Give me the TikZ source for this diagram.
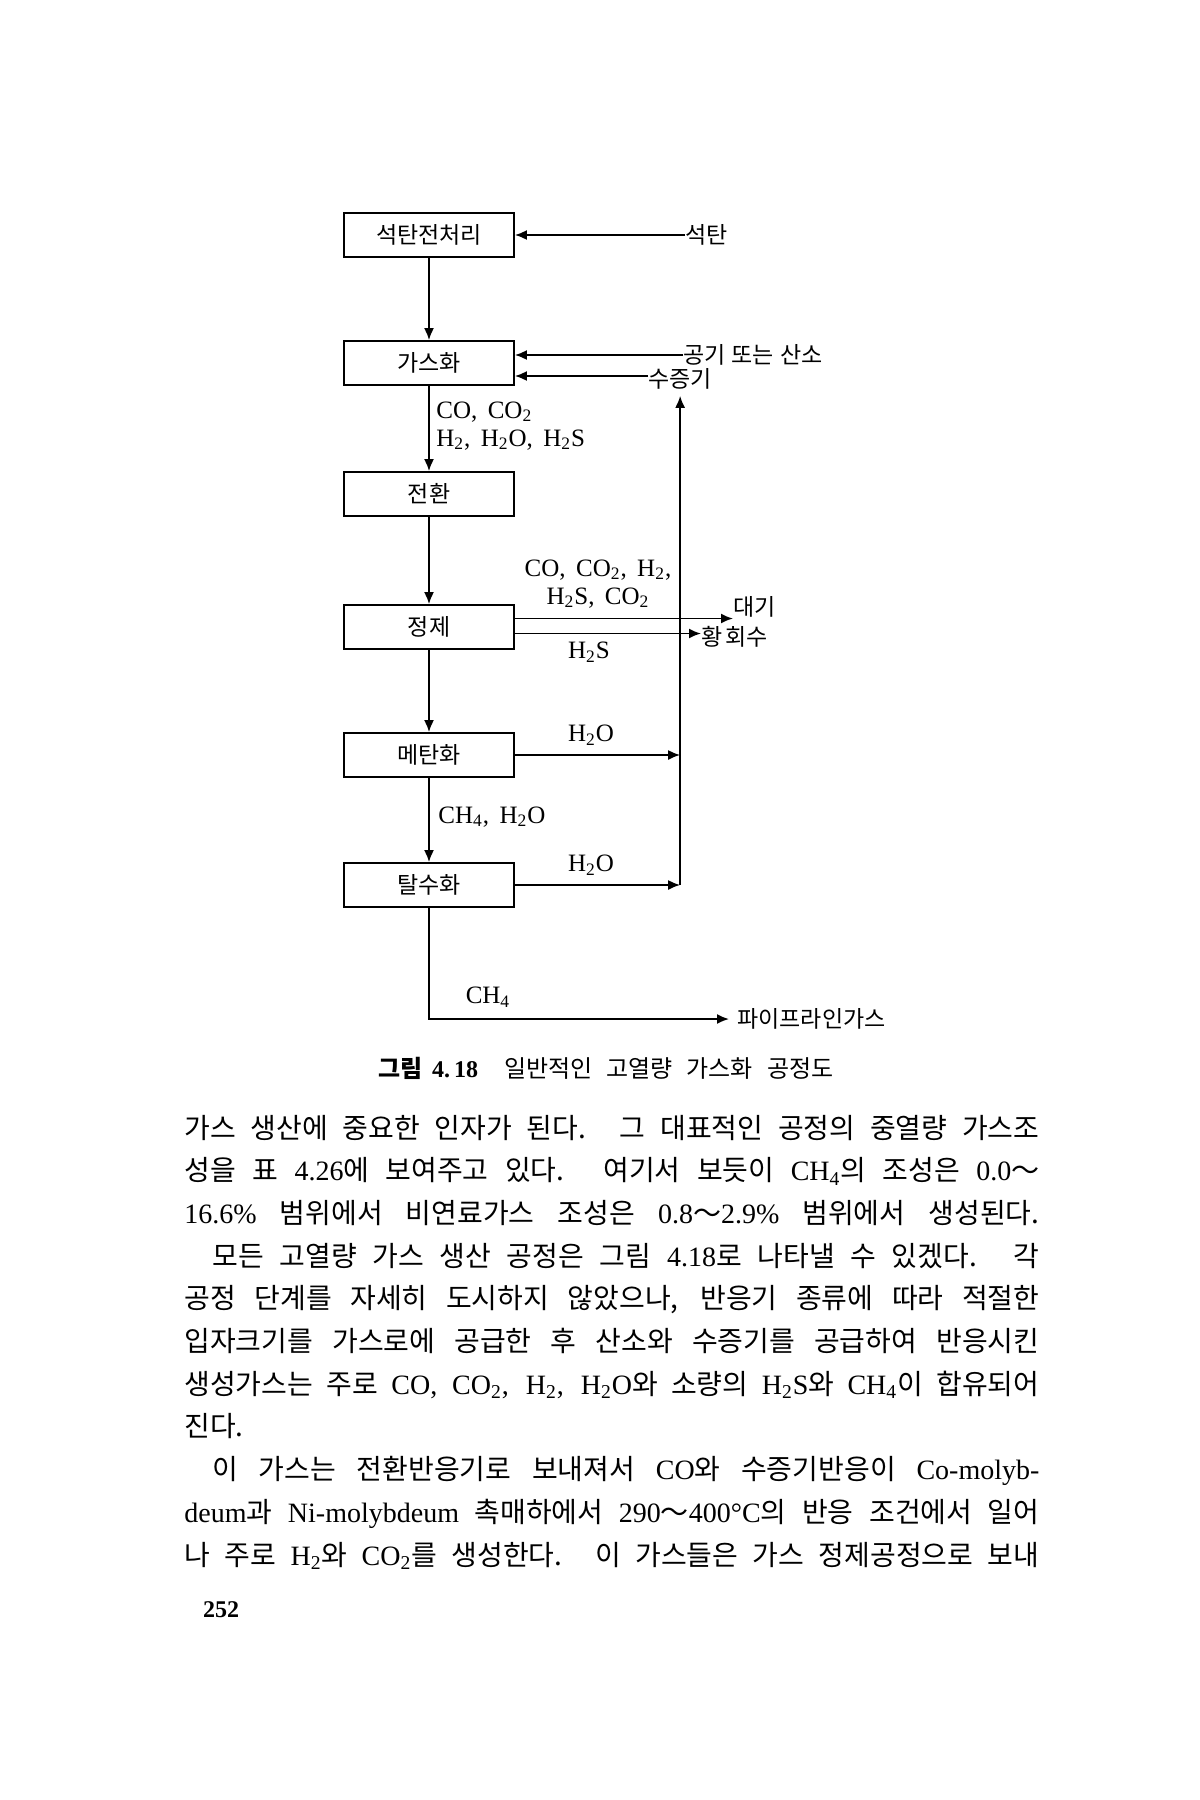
\documentclass[tikz,border=0pt]{standalone}
\usepackage{fontspec}
\newfontfamily\kr{Noto Sans CJK KR}
\newfontfamily\lat{Liberation Serif}
\usetikzlibrary{arrows.meta,positioning}

\tikzset{
  procbox/.style={draw, line width=0.9pt, minimum width=85pt, minimum height=22pt,
    inner sep=0pt, font=\kr\fontsize{11.5}{13}\selectfont},
  flow/.style={line width=0.9pt, -{Latex[length=6pt,width=5pt]}},
  chem/.style={font=\lat\fontsize{12.5}{14}\selectfont, inner sep=0pt},
  side/.style={font=\kr\fontsize{11.5}{13}\selectfont, inner sep=0pt},
  body/.style={font=\kr\fontsize{14}{17}\selectfont, inner sep=0pt, anchor=base west},
}

% one justified line of the page text
\newcommand\bodyline[2][427.5pt]{\makebox[#1][s]{#2}}

\begin{document}
\begin{tikzpicture}[x=0.5pt, y=-0.5pt, every node/.style={font=\kr}]

\useasboundingbox (0,0) rectangle (1200,1800);

\def\xbox{429}
\def\lskip{42.7}

%process boxes
\node[procbox] (prep) at (\xbox,235) {석탄전처리};
\node[procbox] (gasf) at (\xbox,363) {가스화};
\node[procbox] (conv) at (\xbox,494) {전환};
\node[procbox] (puri) at (\xbox,627) {정제};
\node[procbox] (meth) at (\xbox,755) {메탄화};
\node[procbox] (dehy) at (\xbox,885) {탈수화};

%inputs and outputs
\node[side, anchor=west] (coal) at (685,235) {석탄};
\node[side, anchor=west] (air) at (683,355) {공기\hspace{3pt}또는\hspace{3pt}산소};
\node[side, anchor=west] (steam) at (648,379) {수증기};
\node[side, anchor=west] (atm) at (733,607) {대기};
\node[side, anchor=west] (sulf) at (701,637) {황\hspace{1.5pt}회수};
\node[side, anchor=west] (pipe) at (737,1019) {파이프라인가스};

%stream labels
\node[chem, anchor=west, align=left] (gaslbl) at (436,426)
  {CO,\,\ CO\textsubscript{2}\\H\textsubscript{2},\,\ H\textsubscript{2}O,\,\ H\textsubscript{2}S};
\node[chem, align=center] (offlbl) at (598,584)
  {CO,\,\ CO\textsubscript{2},\,\ H\textsubscript{2},\\H\textsubscript{2}S,\,\ CO\textsubscript{2}};
\node[chem] (hslbl) at (589,652) {H\textsubscript{2}S};
\node[chem] (wat1) at (591,735) {H\textsubscript{2}O};
\node[chem, anchor=west] (mixlbl) at (438,817) {CH\textsubscript{4},\,\ H\textsubscript{2}O};
\node[chem] (wat2) at (591,865) {H\textsubscript{2}O};
\node[chem] (ch4lbl) at (488,997) {CH\textsubscript{4}};

%main line
\draw[flow] (prep) -- (gasf);
\draw[flow] (gasf) -- (conv);
\draw[flow] (conv) -- (puri);
\draw[flow] (puri) -- (meth);
\draw[flow] (meth) -- (dehy);
\draw[flow, shorten >=4pt] (dehy.south) |- (pipe.west);

%feeds
\draw[flow] (coal.west) -- (prep.east);
\draw[flow] (air.west) -- (air.west -| gasf.east);
\draw[flow] ([yshift=1.5pt]steam.west) -- ([yshift=1.5pt]steam.west -| gasf.east);

%off-gas from purification
\draw[flow] ([yshift=4.25pt]puri.east) -- ([yshift=4.25pt]puri.east -| atm.west);
\draw[flow] ([yshift=-3.25pt]puri.east) -- ([yshift=-3.25pt]puri.east -| sulf.west);

%water back to the steam feed
\coordinate (ret) at (dehy.east -| steam.south);
\draw[flow] (meth.east) -- (meth.east -| ret);
\draw[flow] (dehy.east) -- (ret);
\draw[flow, shorten >=3pt] (ret) -- (steam.south);

%caption
\node[font=\kr\fontsize{12}{14}\selectfont, anchor=west] (cap) at (371,1068)
  {{\bfseries 그림\hspace{5pt}{\lat 4.\,18}}\hspace{13pt}일반적인\hspace{7pt}고열량\hspace{7pt}가스화\hspace{7pt}공정도};

%page text
\node[body] (l1) at (184,1138+0*\lskip) {\bodyline{가스 생산에 중요한 인자가 된다. 그 대표적인 공정의 중열량 가스조}};
\node[body] (l2) at (184,1138+1*\lskip) {\bodyline{성을 표 {\lat 4.26}에 보여주고 있다. 여기서 보듯이 {\lat CH\textsubscript{4}}의 조성은 {\lat 0.0}～}};
\node[body] (l3) at (184,1138+2*\lskip) {\bodyline{{\lat 16.6\%} 범위에서 비연료가스 조성은 {\lat 0.8}～{\lat 2.9\%} 범위에서 생성된다.}};
\node[body] (l4) at (212,1138+3*\lskip) {\bodyline[413.5pt]{모든 고열량 가스 생산 공정은 그림 {\lat 4.18}로 나타낼 수 있겠다. 각}};
\node[body] (l5) at (184,1138+4*\lskip) {\bodyline{공정 단계를 자세히 도시하지 않았으나, 반응기 종류에 따라 적절한}};
\node[body] (l6) at (184,1138+5*\lskip) {\bodyline{입자크기를 가스로에 공급한 후 산소와 수증기를 공급하여 반응시킨}};
\node[body] (l7) at (184,1138+6*\lskip) {\bodyline{생성가스는 주로 {\lat CO, CO\textsubscript{2}, H\textsubscript{2}, H\textsubscript{2}O}와 소량의 {\lat H\textsubscript{2}S}와 {\lat CH\textsubscript{4}}이 합유되어}};
\node[body] (l8) at (184,1138+7*\lskip) {진다.};
\node[body] (l9) at (212,1138+8*\lskip) {\bodyline[413.5pt]{이 가스는 전환반응기로 보내져서 {\lat CO}와 수증기반응이 {\lat Co-molyb-}}};
\node[body] (l10) at (184,1138+9*\lskip) {\bodyline{{\lat deum}과 {\lat Ni-molybdeum} 촉매하에서 {\lat 290}～{\lat 400°C}의 반응 조건에서 일어}};
\node[body] (l11) at (184,1138+10*\lskip) {\bodyline{나 주로 {\lat H\textsubscript{2}}와 {\lat CO\textsubscript{2}}를 생성한다. 이 가스들은 가스 정제공정으로 보내}};

%page number
\node[font=\lat\bfseries\fontsize{12}{14}\selectfont, inner sep=0pt] (pgno) at (221,1610) {252};

\end{tikzpicture}
\end{document}
